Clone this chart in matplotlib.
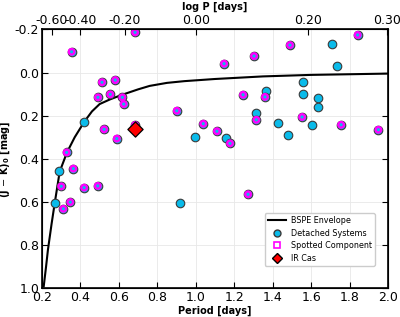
import numpy as np
import matplotlib
matplotlib.use("Agg")
import matplotlib.pyplot as plt
from matplotlib.lines import Line2D

# BSPE envelope
env_p = [0.209, 0.221, 0.231, 0.25, 0.266, 0.292, 0.33, 0.37, 0.42, 0.46,
         0.50, 0.555, 0.614, 0.70, 0.76, 0.85, 0.94, 1.1, 1.35, 1.6, 2.0]
env_jk = [0.99, 0.90, 0.82, 0.70, 0.606, 0.459, 0.37, 0.30, 0.228, 0.18,
          0.146, 0.124, 0.104, 0.078, 0.062, 0.048, 0.040, 0.030, 0.018, 0.011, 0.005]

# detached systems
det_p = [1.707, 1.733, 0.420, 0.998, 1.159, 1.364, 1.315, 1.429, 1.478, 1.559,
         1.556, 1.634, 1.636, 1.606, 0.290, 0.268, 0.918]
det_jk = [-0.131, -0.030, 0.228, 0.297, 0.303, 0.086, 0.188, 0.232, 0.291, 0.044,
          0.101, 0.119, 0.160, 0.242, 0.456, 0.606, 0.606]

# spotted components
spot_p = [0.684, 0.354, 1.842, 1.490, 1.147, 1.303, 0.512, 0.581, 0.491, 0.555,
          0.618, 0.625, 0.523, 0.589, 0.684, 0.901, 1.039, 1.110, 1.178, 1.246,
          1.360, 1.315, 1.553, 1.756, 1.950, 0.328, 0.363, 0.300, 0.419, 0.490,
          0.347, 0.311, 1.272]
spot_jk = [-0.186, -0.096, -0.174, -0.127, -0.041, -0.076, 0.045, 0.035, 0.115, 0.101,
           0.115, 0.146, 0.263, 0.306, 0.243, 0.177, 0.237, 0.272, 0.328, 0.103,
           0.113, 0.219, 0.206, 0.242, 0.265, 0.370, 0.445, 0.527, 0.533, 0.525,
           0.600, 0.631, 0.564]

# IR Cas
ircas_p = [0.684]
ircas_jk = [0.263]

logp_ticks = [-0.6, -0.4, -0.2, 0.0, 0.2, 0.3]
logp_labels = ['-0.60', '-0.40', '-0.20', '0.00', '0.20', '0.30']

cyan = '#0abbea'
edge = '#3a3a3a'

fig = plt.figure(figsize=(4, 3.17), dpi=100)
ax = fig.add_axes([0.105, 0.09, 0.865, 0.8175])

ax.grid(True, color='#e8e8e8', linewidth=0.6)
ax.set_axisbelow(True)

ax.plot(env_p, env_jk, color='black', linewidth=1.5, zorder=3)

ax.scatter(det_p, det_jk, s=38, facecolor=cyan, edgecolor=edge, linewidth=0.8, zorder=4)
ax.scatter(spot_p, spot_jk, s=38, facecolor=cyan, edgecolor=edge, linewidth=0.8, zorder=4)
ax.scatter(spot_p, spot_jk, s=16, facecolor='none', edgecolor='#ff00ff', linewidth=1.7, zorder=5)
ax.scatter(ircas_p, ircas_jk, s=60, marker='D', facecolor='red', edgecolor='black',
           linewidth=0.9, zorder=6)

ax.set_xlim(0.2, 2.0)
ax.set_ylim(1.0, -0.2)
ax.set_xticks(np.arange(0.2, 2.01, 0.2))
ax.set_yticks(np.arange(-0.2, 1.01, 0.2))
ax.xaxis.set_major_formatter(matplotlib.ticker.FormatStrFormatter('%.1f'))
ax.yaxis.set_major_formatter(matplotlib.ticker.FormatStrFormatter('%.1f'))
ax.tick_params(direction='in', length=4, width=0.8, labelsize=9, right=True, pad=2)
for s in ax.spines.values():
    s.set_linewidth(1.2)

ax.set_xlabel('Period [days]', fontsize=7, fontweight='bold', labelpad=1)
ax.set_ylabel(r'(J $-$ K)$_\mathbf{0}$ [mag]', fontsize=7, fontweight='bold', labelpad=0)
ax.yaxis.set_label_coords(-0.086, 0.5)

ax2 = ax.twiny()
ax2.set_xlim(ax.get_xlim())
ax2.set_xticks([10 ** v for v in logp_ticks])
ax2.set_xticklabels(logp_labels)
ax2.tick_params(direction='in', length=4, width=0.8, labelsize=9, pad=2)
ax2.set_xlabel('log P [days]', fontsize=7, fontweight='bold', labelpad=3)

handles = [
    Line2D([], [], color='black', linewidth=1.5, label='BSPE Envelope'),
    Line2D([], [], linestyle='none', marker='o', markersize=5, markerfacecolor=cyan,
           markeredgecolor=edge, label='Detached Systems'),
    Line2D([], [], linestyle='none', marker='s', markersize=4.5, markerfacecolor='none',
           markeredgecolor='#ff00ff', markeredgewidth=1.2, label='Spotted Component'),
    Line2D([], [], linestyle='none', marker='D', markersize=5.5, markerfacecolor='red',
           markeredgecolor='black', label='IR Cas'),
]
ax.legend(handles=handles, loc='lower right', bbox_to_anchor=(0.962, 0.088),
          fontsize=5.8, framealpha=1, edgecolor='#cccccc', handlelength=2.3,
          handletextpad=0.6, borderpad=0.35, labelspacing=0.45, borderaxespad=0)

fig.savefig('out.png', dpi=100)
